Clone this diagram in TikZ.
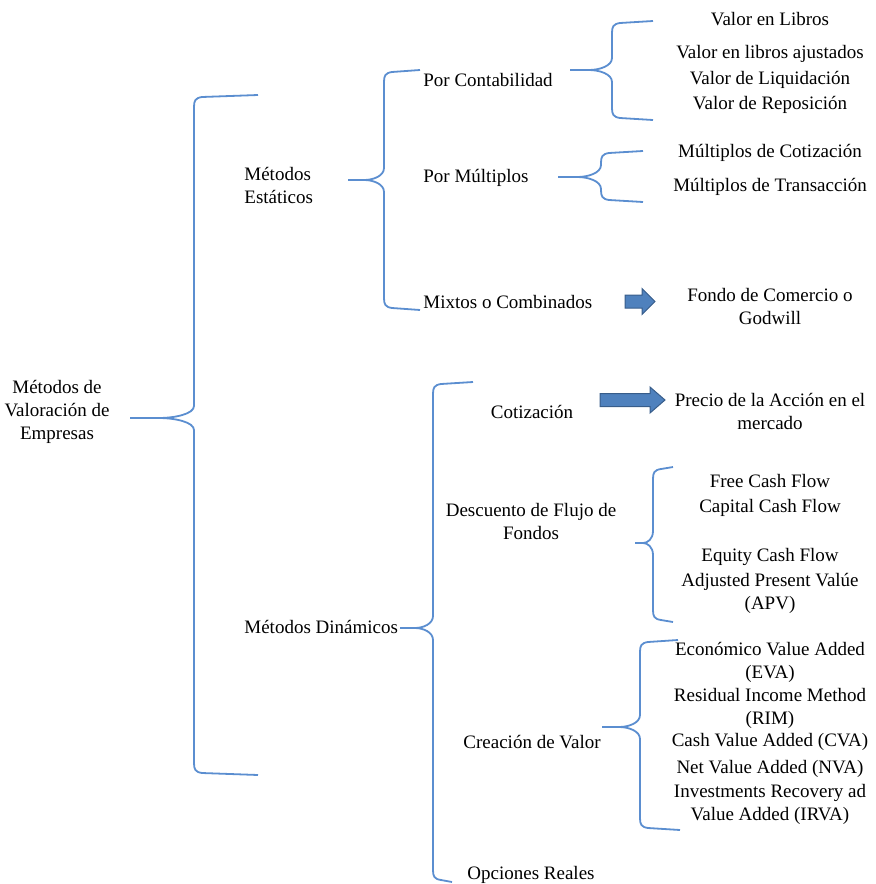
\documentclass[tikz,border=0pt]{standalone}
\usepackage{fontspec}
\setmainfont{Liberation Serif}
\usepackage{tikz}
\definecolor{bracecol}{RGB}{91,142,208}
\definecolor{arrfill}{RGB}{79,129,189}
\definecolor{arrline}{RGB}{56,93,138}
\tikzset{
  txt/.style={font=\fontsize{9.5}{11.5}\selectfont, inner sep=0pt, align=center, yshift=-1pt},
  lefttxt/.style={txt, anchor=west, align=left},
  bracestyle/.style={draw=bracecol, line width=0.9pt},
  blockarr/.style={fill=arrfill, draw=arrline, line width=0.5pt}
}
% tip x, tip y, spine x, top y, top end x, bottom y, bottom end x
\newcommand{\curlybrace}[7]{%
  \draw[bracestyle] (#5,#4) -- (#3+8,#4+2) .. controls (#3+1,#4+3) and (#3,#4+6) .. (#3,#4+12)
    -- (#3,#2-12) .. controls (#3,#2-4) and (#3-0.3*#3+0.3*#1,#2) .. (#3-0.55*#3+0.55*#1,#2)
    -- (#1,#2);
  \draw[bracestyle] (#3-0.55*#3+0.55*#1,#2) .. controls (#3-0.3*#3+0.3*#1,#2) and (#3,#2+4) .. (#3,#2+12)
    -- (#3,#6-12) .. controls (#3,#6-6) and (#3+1,#6-3) .. (#3+8,#6-2) -- (#7,#6);
}
% start x, tip x, y, head start x
\newcommand{\blockarrow}[4]{%
  \filldraw[blockarr] (#1,#3-6.5) -- (#4,#3-6.5) -- (#4,#3-13) -- (#2,#3)
    -- (#4,#3+13) -- (#4,#3+6.5) -- (#1,#3+6.5) -- cycle;
}

\begin{document}
\begin{tikzpicture}[x=0.5pt, y=-0.5pt]
  \useasboundingbox (0,0) rectangle (875,884);

  % root
  \node[txt] (root) at (57,410) {Métodos de\\Valoración de\\Empresas};
  \curlybrace{130}{418}{194}{95}{258}{775}{258}

  % static methods
  \node[lefttxt] (estat) at (244,183.5) {Métodos\\Estáticos};
  \curlybrace{348}{180}{384}{70}{420}{310}{420}

  \node[lefttxt] (contab) at (423,78) {Por Contabilidad};
  \curlybrace{570}{70}{612}{21}{653}{120}{653}
  \node[txt] (vlibros) at (770,17) {Valor en Libros};
  \node[txt] (vajust) at (770,52) {Valor en libros ajustados};
  \node[txt] (vliq) at (770,78) {Valor de Liquidación};
  \node[txt] (vrepo) at (770,103) {Valor de Reposición};

  \node[lefttxt] (multip) at (423,176) {Por Múltiplos};
  \curlybrace{558}{177}{601}{151}{643}{202}{643}
  \node[txt] (mcotiz) at (770,151) {Múltiplos de Cotización};
  \node[txt] (mtrans) at (770,185) {Múltiplos de Transacción};

  \node[lefttxt] (mixtos) at (423,300) {Mixtos o Combinados};
  \blockarrow{625}{655}{301.5}{642}
  \node[txt] (fondo) at (770,304.5) {Fondo de Comercio o\\Godwill};

  % dynamic methods
  \node[lefttxt] (dinam) at (244,625) {Métodos Dinámicos};
  \curlybrace{400}{628}{433}{382}{473}{882}{452}

  \node[txt] (cotiz) at (532,410) {Cotización};
  \blockarrow{600}{665}{400}{650}
  \node[txt] (precio) at (770,409.5) {Precio de la Acción en el\\mercado};

  \node[txt] (descuento) at (531,519.5) {Descuento de Flujo de\\Fondos};
  \curlybrace{635}{543}{653}{467}{673}{622}{673}
  \node[txt] (fcf) at (770,479) {Free Cash Flow};
  \node[txt] (ccf) at (770,506) {Capital Cash Flow};
  \node[txt] (ecf) at (770,555) {Equity Cash Flow};
  \node[txt] (apv) at (770,591) {Adjusted Present Valúe\\(APV)};

  \node[txt] (creacion) at (532,740) {Creación de Valor};
  \curlybrace{602}{727}{640}{640}{678}{830}{680}
  \node[txt] (eva) at (770,660.5) {Económico Value Added\\(EVA)};
  \node[txt] (rim) at (770,706) {Residual Income Method\\(RIM)};
  \node[txt] (cva) at (770,740) {Cash Value Added (CVA)};
  \node[txt] (nva) at (770,767) {Net Value Added (NVA)};
  \node[txt] (irva) at (770,802.5) {Investments Recovery ad\\Value Added (IRVA)};

  \node[txt] (opciones) at (531,873) {Opciones Reales};
\end{tikzpicture}
\end{document}
